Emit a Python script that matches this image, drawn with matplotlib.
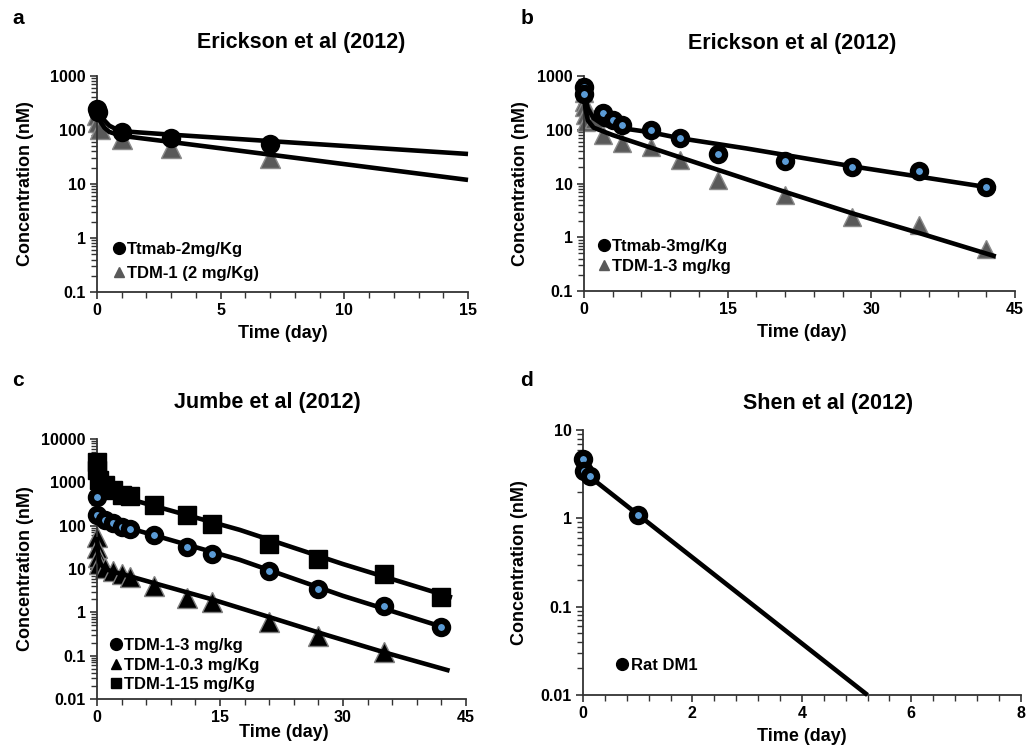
import numpy as np
import matplotlib
matplotlib.use("Agg")
import matplotlib.pyplot as plt
from matplotlib.lines import Line2D
from matplotlib.ticker import LogLocator, FuncFormatter, MultipleLocator, NullFormatter

plt.rcParams['font.family'] = ['Liberation Sans', 'DejaVu Sans']
plt.rcParams['font.weight'] = 'bold'

BLUE = '#5b9bd5'
GRAY_TRI = '#595959'

# Panel a: Erickson et al (2012), 2 mg/kg
a_ttmab_t = [0, 0.04, 1, 3, 7]
a_ttmab_c = [250, 215, 92, 70, 55]
a_tdm_t = [0, 0.04, 0.12, 1, 3, 7]
a_tdm_c = [190, 140, 105, 68, 47, 30]
a_fit_ttmab_t = [0, 0.15, 0.3, 0.5, 0.75, 1, 3, 15]
a_fit_ttmab_c = [250, 190, 150, 120, 105, 95, 82, 36]
a_fit_tdm_t = [0, 0.15, 0.3, 0.5, 1, 3, 15]
a_fit_tdm_c = [190, 140, 110, 92, 78, 60, 11.9]

# Panel b: Erickson et al (2012), 3 mg/kg
b_ttmab_t = [0, 0.04, 2, 3, 4, 7, 10, 14, 21, 28, 35, 42]
b_ttmab_c = [630, 470, 210, 150, 123, 100, 72, 36, 26, 20, 17, 8.5]
b_tdm_t = [0, 0.01, 0.04, 0.08, 0.25, 1, 2, 4, 7, 10, 14, 21, 28, 35, 42]
b_tdm_c = [480, 330, 270, 190, 140, 160, 80, 56, 49, 27, 11.5, 6.1, 2.4, 1.7, 0.6]
b_fit_ttmab_t = [0, 0.15, 0.4, 1, 2, 4, 7, 10, 17, 28, 43]
b_fit_ttmab_c = [620, 400, 250, 165, 125, 107, 90, 70, 45, 21, 8.1]
b_fit_tdm_t = [0, 0.15, 0.4, 1, 3, 14, 21, 28, 35, 43]
b_fit_tdm_c = [450, 250, 150, 110, 80, 18, 7, 2.8, 1.2, 0.44]

# Panel c: Jumbe et al (2012)
c_3_t = [0, 0.04, 1, 2, 3, 4, 7, 11, 14, 21, 27, 35, 42]
c_3_c = [460, 175, 135, 113, 95, 85, 60, 33, 22, 9, 3.4, 1.4, 0.45]
c_03_t = [0, 0.04, 0.1, 0.25, 1, 2, 3, 4, 7, 11, 14, 21, 27, 35]
c_03_c = [55, 30, 19, 13, 10.5, 8.8, 7.6, 6.5, 4.1, 2.2, 1.7, 0.6, 0.29, 0.12]
c_15_t = [0, 0.04, 0.25, 1, 2, 3, 4, 7, 11, 14, 21, 27, 35, 42]
c_15_c = [3000, 1900, 1150, 870, 670, 520, 480, 300, 180, 110, 38, 17, 7.6, 2.3]
c_fit15_t = [0, 0.1, 0.3, 0.6, 1, 2, 4.4, 17.4, 30, 43.3]
c_fit15_c = [2500, 1500, 1000, 750, 620, 480, 390, 80, 13, 2.2]
c_fit3_t = [0, 0.1, 0.3, 1, 2, 4, 17.4, 30, 43]
c_fit3_c = [460, 220, 160, 125, 105, 87, 16.3, 2.4, 0.41]
c_fit03_t = [0, 0.1, 0.3, 1, 2, 4, 7, 14, 21, 28, 35, 43]
c_fit03_c = [55, 25, 14, 10, 8.6, 6.8, 4.7, 2.0, 0.78, 0.3, 0.12, 0.045]

# Panel d: Shen et al (2012)
d_t = [0, 0.02, 0.125, 1]
d_c = [4.7, 3.4, 3.0, 1.1]
d_fit_t = [0, 5.2]
d_fit_c = [3.4, 0.01]

fig = plt.figure(figsize=(10.3, 7.54), dpi=100)
ax_a = fig.add_axes([0.0942, 0.6127, 0.3602, 0.2865])
ax_b = fig.add_axes([0.567, 0.614, 0.4184, 0.285])
ax_c = fig.add_axes([0.0942, 0.0729, 0.3582, 0.3449])
ax_d = fig.add_axes([0.566, 0.0782, 0.425, 0.3515])


def style(ax, xmax, major, minor, ymin, ymax):
    ax.set_yscale('log')
    ax.set_xlim(0, xmax)
    ax.set_ylim(ymin, ymax)
    for s in ['top', 'right']:
        ax.spines[s].set_visible(False)
    for s in ['left', 'bottom']:
        ax.spines[s].set_color('#333333')
        ax.spines[s].set_linewidth(1.3)
    ax.xaxis.set_major_locator(MultipleLocator(major))
    ax.xaxis.set_minor_locator(MultipleLocator(minor))
    ax.yaxis.set_major_locator(LogLocator(base=10, numticks=20))
    ax.yaxis.set_minor_locator(LogLocator(base=10, subs=np.arange(2, 10), numticks=20))
    ax.yaxis.set_minor_formatter(NullFormatter())
    ax.yaxis.set_major_formatter(FuncFormatter(lambda v, p: '%g' % v))
    ax.tick_params(which='major', direction='out', length=5, width=1.2, color='#333333',
                   labelsize=11.5, pad=3)
    ax.tick_params(which='minor', direction='out', length=4, width=1.0, color='#333333')
    ax.xaxis.set_major_formatter(FuncFormatter(lambda v, p: '%g' % v))
    for lab in ax.get_xticklabels() + ax.get_yticklabels():
        lab.set_fontweight('bold')
    ax.set_xlabel('Time (day)', fontsize=13, fontweight='bold')
    ax.set_ylabel('Concentration (nM)', fontsize=13, fontweight='bold')
    ax.xaxis.label.set_va('center')
    ax.yaxis.label.set_va('center')


circ = dict(marker='o', ls='none', mec='black', mfc=BLUE, ms=9.5, mew=4.5, zorder=4, clip_on=False)
fitline = dict(color='black', lw=3.3, zorder=3, solid_capstyle='butt', clip_on=False)

# ---- a
style(ax_a, 15, 5, 1, 0.1, 1000)
ax_a.plot(a_tdm_t, a_tdm_c, marker='^', ls='none', mfc=GRAY_TRI, mec='#8a8a8a', ms=14, mew=1, zorder=2, clip_on=False)
ax_a.plot(a_fit_ttmab_t, a_fit_ttmab_c, **fitline)
ax_a.plot(a_fit_tdm_t, a_fit_tdm_c, **fitline)
ax_a.plot(a_ttmab_t, a_ttmab_c, **dict(circ, mfc='black'))
ax_a.text(0.55, 1.153, 'Erickson et al (2012)', transform=ax_a.transAxes, ha='center', va='center', fontsize=15.5, fontweight='bold')
ax_a.xaxis.set_label_coords(0.5, -0.19)
ax_a.yaxis.set_label_coords(-0.194, 0.5)

# ---- b
style(ax_b, 45, 15, 3, 0.1, 1000)
ax_b.plot(b_tdm_t, b_tdm_c, marker='^', ls='none', mfc=GRAY_TRI, mec='#8a8a8a', ms=13, mew=1, zorder=2, clip_on=False)
ax_b.plot(b_fit_ttmab_t, b_fit_ttmab_c, **fitline)
ax_b.plot(b_fit_tdm_t, b_fit_tdm_c, **fitline)
ax_b.plot(b_ttmab_t, b_ttmab_c, **circ)
ax_b.text(0.482, 1.153, 'Erickson et al (2012)', transform=ax_b.transAxes, ha='center', va='center', fontsize=15.5, fontweight='bold')
ax_b.xaxis.set_label_coords(0.505, -0.195)
ax_b.yaxis.set_label_coords(-0.148, 0.5)

# ---- c
style(ax_c, 45, 15, 3, 0.01, 10000)
ax_c.plot(c_03_t, c_03_c, marker='^', ls='none', mfc='black', mec='#7f7f7f', ms=15, mew=1, zorder=2, clip_on=False)
ax_c.plot(c_fit15_t, c_fit15_c, **fitline)
ax_c.plot(c_fit3_t, c_fit3_c, **fitline)
ax_c.plot(c_fit03_t, c_fit03_c, **fitline)
ax_c.plot(c_15_t, c_15_c, marker='s', ls='none', mfc='black', mec='black', ms=13, mew=1, zorder=4, clip_on=False)
ax_c.plot(c_3_t, c_3_c, **circ)
ax_c.text(0.463, 1.142, 'Jumbe et al (2012)', transform=ax_c.transAxes, ha='center', va='center', fontsize=15.5, fontweight='bold')
ax_c.xaxis.set_label_coords(0.505, -0.127)
ax_c.yaxis.set_label_coords(-0.195, 0.5)

# ---- d
style(ax_d, 8, 2, 0.4, 0.01, 10)
ax_d.plot(d_fit_t, d_fit_c, **fitline)
ax_d.plot(d_t, d_c, **circ)
ax_d.text(0.559, 1.10, 'Shen et al (2012)', transform=ax_d.transAxes, ha='center', va='center', fontsize=15.5, fontweight='bold')
ax_d.xaxis.set_label_coords(0.5, -0.158)
ax_d.yaxis.set_label_coords(-0.144, 0.5)

# legends
h_circ = Line2D([], [], marker='o', ls='none', color='black', ms=8.5)
h_tri_g = Line2D([], [], marker='^', ls='none', mfc=GRAY_TRI, mec=GRAY_TRI, ms=7)
h_tri_k = Line2D([], [], marker='^', ls='none', color='black', ms=7)
h_sq = Line2D([], [], marker='s', ls='none', color='black', ms=7)
leg_kw = dict(frameon=False, loc='upper left', borderpad=0, borderaxespad=0,
              handlelength=0.8, handletextpad=0.1, prop={'size': 12, 'weight': 'bold'})
ax_a.legend([h_circ, h_tri_g], ['Ttmab-2mg/Kg', 'TDM-1 (2 mg/Kg)'],
            bbox_to_anchor=(0.04, 0.231), labelspacing=0.55, **leg_kw)
ax_b.legend([h_circ, h_tri_g], ['Ttmab-3mg/Kg', 'TDM-1-3 mg/kg'],
            bbox_to_anchor=(0.03, 0.242), labelspacing=0.3, **leg_kw)
ax_c.legend([h_circ, h_tri_k, h_sq], ['TDM-1-3 mg/kg', 'TDM-1-0.3 mg/Kg', 'TDM-1-15 mg/Kg'],
            bbox_to_anchor=(0.033, 0.235), labelspacing=0.28, **leg_kw)
ax_d.legend([h_circ], ['Rat DM1'], bbox_to_anchor=(0.075, 0.141), **leg_kw)

for lab, x, y in [('a', 0.012, 0.976), ('b', 0.505, 0.976), ('c', 0.012, 0.495), ('d', 0.505, 0.495)]:
    fig.text(x, y, lab, fontsize=15, fontweight='bold', ha='left', va='center')

fig.savefig('out.png', dpi=100)
